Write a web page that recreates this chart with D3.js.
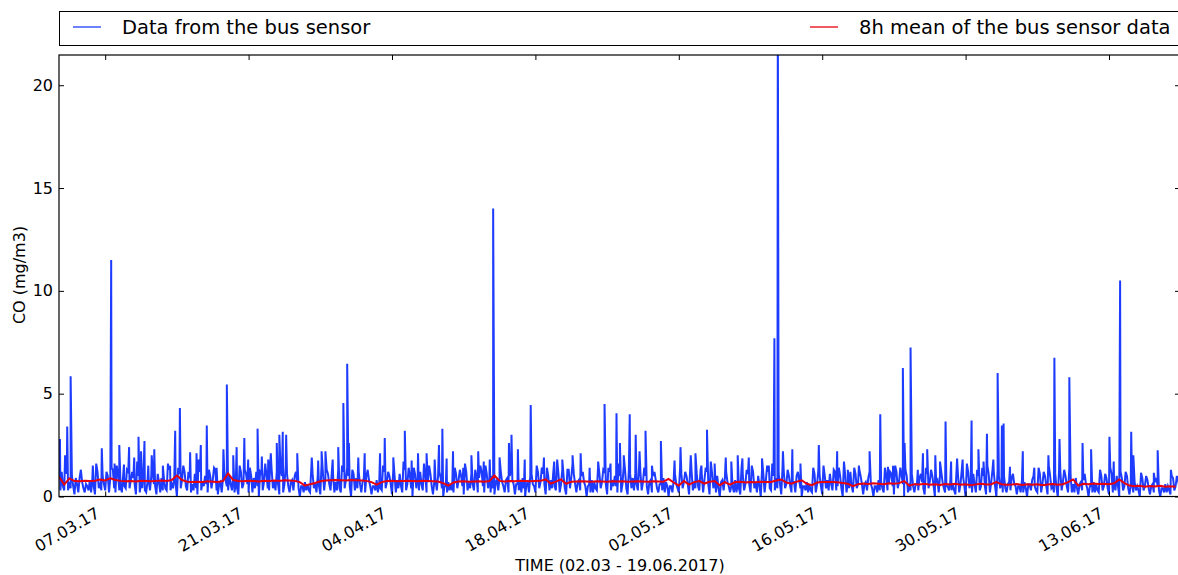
<!DOCTYPE html>
<html><head><meta charset="utf-8">
<script src="https://cdn.jsdelivr.net/npm/d3@7"></script>
<style>body{margin:0;background:#fff;overflow:hidden} svg{display:block} text{font-family:"DejaVu Sans",sans-serif;fill:#000}</style>
</head><body><svg id="c" width="1178" height="575"></svg>
<script>
const seriesNames = ["Data from the bus sensor", "8h mean of the bus sensor data"];
const xTickDates = ["2017-03-07","2017-03-21","2017-04-04","2017-04-18","2017-05-02","2017-05-16","2017-05-30","2017-06-13"];
const yTicks = [0, 5, 10, 15, 20];
const xLabel = "TIME (02.03 - 19.06.2017)";
const yLabel = "CO (mg/m3)";

// bus sensor readings at 00,06,12,18 h. March starts 02.03 12:00
const baseMar = [
0.9,1.2,
0.3,1.1,0.7,1.0, 0.1,0.6,0.9,0.7, 0.2,0.5,0.8,0.9, 0.1,1.2,0.6,1.0, 0.3,1.0,0.9,1.3,
0.2,1.1,0.5,1.0, 0.4,1.2,0.8,0.9, 0.1,1.0,0.7,1.2, 0.2,0.8,1.0,0.6, 0.1,0.7,0.9,0.8,
0.3,1.3,0.6,1.0, 0.0,1.1,0.8,1.2, 0.3,0.9,0.6,1.1, 0.1,1.2,0.7,1.0, 0.2,1.0,0.8,1.3,
0.1,0.7,0.9,0.8, 0.3,0.6,1.0,0.7, 0.1,1.2,0.6,1.1, 0.2,1.0,0.9,1.2, 0.0,1.1,0.7,1.0,
0.3,1.3,0.8,1.2, 0.1,1.0,0.6,1.1, 0.2,0.8,1.0,0.7, 0.0,0.5,0.7,0.6, 0.2,1.1,0.6,1.0,
0.1,1.2,0.9,1.1, 0.3,1.0,0.7,1.3, 0.2,1.2,0.8,1.0, 0.0,1.1,0.9,1.2
];
const baseApr = [
0.2,0.9,1.0,0.8, 0.1,0.5,0.8,0.6, 0.3,1.2,0.7,1.0, 0.1,1.0,0.8,1.1, 0.2,1.3,0.6,1.0,
0.0,1.1,0.9,1.2, 0.3,1.0,0.7,1.1, 0.1,0.8,1.0,0.9, 0.0,0.5,0.7,0.6, 0.2,1.1,0.8,1.0,
0.1,1.2,0.6,1.1, 0.3,1.0,0.9,1.2, 0.2,1.1,0.7,1.0, 0.1,0.8,0.9,0.7, 0.2,0.9,1.0,0.8,
0.1,0.6,0.8,0.9, 0.0,0.7,1.0,0.6, 0.2,1.2,0.7,1.1, 0.1,1.0,0.8,1.2, 0.3,1.1,0.6,1.0,
0.1,1.3,0.9,1.1, 0.2,0.8,1.0,0.7, 0.0,0.6,0.8,0.7, 0.3,1.1,0.7,1.2, 0.1,1.2,0.8,1.0,
0.2,1.0,0.6,1.3, 0.1,1.1,0.9,1.1, 0.3,1.2,0.7,1.0, 0.1,0.8,1.0,0.8, 0.2,0.6,0.9,0.7
];
const baseMay = [
0.0,0.5,0.8,0.6, 0.2,1.1,0.7,1.0, 0.1,1.2,0.6,1.1, 0.3,1.0,0.8,1.2, 0.1,1.1,0.7,1.0,
0.0,0.8,0.9,0.7, 0.2,0.5,0.8,0.6, 0.1,1.0,0.6,1.1, 0.2,1.2,0.7,1.0, 0.0,1.1,0.8,1.2,
0.3,1.0,0.9,1.1, 0.1,1.2,0.6,1.0, 0.2,0.7,1.0,0.8, 0.0,0.5,0.7,0.6, 0.2,1.1,0.6,1.0,
0.1,1.0,0.8,1.1, 0.3,1.2,0.5,1.0, 0.0,1.0,0.7,1.2, 0.2,1.1,0.6,1.0, 0.1,0.7,0.9,0.6,
0.0,0.5,0.8,0.7, 0.2,1.0,0.6,1.1, 0.1,1.2,0.7,1.0, 0.0,1.0,0.5,1.1, 0.2,0.6,0.9,0.7,
0.1,1.1,0.7,1.0, 0.0,0.8,1.0,0.7, 0.2,0.5,0.7,0.6, 0.1,1.1,0.6,1.0, 0.0,1.2,0.7,1.1,
0.2,1.0,0.5,1.0
];
const baseJun = [
0.1,1.1,0.7,1.2, 0.0,1.0,0.6,1.0, 0.2,0.7,0.9,0.6, 0.1,0.5,0.8,0.7, 0.0,0.6,0.8,0.5,
0.2,1.1,0.6,1.0, 0.1,1.0,0.5,1.1, 0.0,1.2,0.7,1.0, 0.2,1.0,0.6,0.9, 0.1,0.7,0.8,0.6,
0.0,0.5,0.7,0.6, 0.2,1.0,0.5,0.9, 0.1,1.1,0.6,1.0, 0.0,0.9,0.5,1.0, 0.1,0.6,0.7,0.5,
0.0,0.9,0.5,0.8, 0.1,0.6,0.7,0.5, 0.0,0.4,0.6,0.5, 0.1,0.9,0.5,0.8
];
// bus sensor readings at 03,09,15,21 h. March starts 02.03 15:00
const midMar = [
0.3,0.5,
1.4,0.3,0.4,0.5, 0.9,0.2,1.3,0.4, 0.6,0.3,0.2,0.5, 1.6,0.4,0.3,0.6, 1.2,0.2,1.4,0.4,
1.5,0.3,0.2,0.5, 1.3,0.4,1.2,0.6, 1.7,0.2,0.4,0.3, 0.7,0.3,1.3,0.5, 1.1,0.2,0.3,0.4,
1.6,0.3,0.4,0.6, 1.4,0.4,1.5,0.5, 1.2,0.2,0.3,0.4, 1.8,0.3,0.5,0.6, 1.3,0.4,1.4,0.3,
0.6,0.2,1.2,0.5, 1.0,0.3,0.2,0.4, 1.5,0.4,1.3,0.6, 1.4,0.2,0.4,0.5, 1.2,0.3,1.6,0.4,
1.7,0.4,0.3,0.6, 1.3,0.2,1.5,0.5, 0.7,0.3,1.2,0.4, 0.5,0.2,0.3,0.3, 1.4,0.4,0.2,0.5,
1.6,0.3,1.3,0.6, 1.2,0.2,0.3,0.4, 1.5,0.4,1.4,0.5, 1.3,0.3,0.4,0.6
];
const midApr = [
0.7,0.2,1.3,0.5, 0.5,0.3,0.2,0.4, 1.5,0.4,1.2,0.6, 1.3,0.2,0.4,0.5, 1.7,0.3,1.4,0.4,
1.4,0.4,0.3,0.6, 1.6,0.2,1.5,0.5, 0.7,0.3,1.2,0.4, 0.5,0.2,0.3,0.3, 1.4,0.4,1.3,0.5,
1.6,0.3,0.4,0.6, 1.3,0.2,1.5,0.5, 1.5,0.4,0.2,0.4, 0.7,0.3,1.2,0.5, 0.8,0.2,1.3,0.6,
0.6,0.3,0.2,0.4, 0.6,0.2,1.1,0.5, 1.5,0.4,1.4,0.6, 1.4,0.3,0.4,0.5, 1.8,0.2,1.3,0.4,
1.3,0.4,1.6,0.6, 0.7,0.3,1.2,0.5, 0.5,0.2,0.2,0.4, 1.5,0.4,1.3,0.6, 1.4,0.3,0.5,0.5,
1.6,0.2,1.5,0.4, 1.3,0.4,0.3,0.6, 1.5,0.3,1.4,0.5, 0.7,0.2,1.2,0.4, 0.6,0.3,0.2,0.5
];
const midMay = [
0.5,0.2,1.1,0.4, 1.4,0.4,1.2,0.6, 1.5,0.3,0.4,0.5, 1.3,0.2,1.4,0.6, 1.7,0.4,0.2,0.4,
0.7,0.3,1.2,0.5, 0.5,0.2,0.2,0.4, 1.4,0.3,1.3,0.6, 1.5,0.4,0.2,0.5, 1.3,0.2,1.5,0.4,
1.6,0.3,0.4,0.6, 1.4,0.4,1.3,0.5, 0.7,0.2,1.2,0.4, 0.5,0.3,0.2,0.3, 1.4,0.2,1.3,0.5,
1.5,0.4,0.3,0.6, 1.3,0.3,1.4,0.4, 1.7,0.2,0.4,0.5, 1.4,0.4,1.3,0.6, 0.6,0.3,1.2,0.4,
0.5,0.2,0.3,0.4, 1.4,0.3,1.2,0.5, 1.5,0.4,1.4,0.6, 1.3,0.2,0.3,0.5, 0.6,0.3,1.1,0.4,
1.4,0.4,1.3,0.5, 0.7,0.2,1.2,0.4, 0.5,0.3,0.3,0.3, 1.4,0.2,1.3,0.5, 1.6,0.4,0.2,0.6,
1.3,0.3,1.4,0.5
];
const midJun = [
1.5,0.2,1.3,0.5, 1.3,0.4,0.2,0.4, 0.6,0.3,1.1,0.5, 0.5,0.2,0.2,0.4, 0.6,0.3,1.0,0.3,
1.4,0.2,1.2,0.5, 1.5,0.4,0.2,0.4, 1.3,0.3,1.3,0.5, 1.4,0.2,0.2,0.4, 0.6,0.3,1.1,0.4,
0.5,0.2,0.2,0.3, 1.3,0.3,1.1,0.4, 1.4,0.2,0.3,0.5, 1.2,0.3,1.2,0.4, 0.6,0.2,0.3,0.3,
1.1,0.3,1.0,0.4, 0.5,0.2,0.9,0.3, 0.4,0.2,0.2,0.3, 1.0,0.3,1.0,0.4
];
// short peaks of the bus sensor data [time, mg/m3]
const spikes = [
["2017-03-02 14",2.8],["2017-03-03 02",2.0],["2017-03-03 07",3.4],["2017-03-03 15",5.85],
["2017-03-05 19",1.5],["2017-03-06 16",2.35],["2017-03-07 14",11.5],["2017-03-07 22",1.6],
["2017-03-08 09",2.5],["2017-03-08 20",1.55],["2017-03-09 08",2.4],["2017-03-09 20",1.9],
["2017-03-10 06",2.9],["2017-03-10 12",2.2],["2017-03-10 20",2.7],["2017-03-11 05",1.5],
["2017-03-11 13",2.0],["2017-03-11 19",2.3],["2017-03-12 15",1.5],["2017-03-13 08",1.5],
["2017-03-13 20",3.2],["2017-03-14 07",4.3],["2017-03-14 14",1.3],["2017-03-15 07",2.15],
["2017-03-15 22",2.1],["2017-03-16 08",2.5],["2017-03-16 22",3.45],["2017-03-17 21",1.4],
["2017-03-18 13",2.3],["2017-03-18 21",5.45],["2017-03-19 12",2.0],["2017-03-19 20",2.4],
["2017-03-20 14",2.85],["2017-03-20 23",1.8],["2017-03-21 21",3.3],["2017-03-22 07",1.95],
["2017-03-22 22",1.8],["2017-03-23 04",2.1],["2017-03-23 18",2.6],["2017-03-24 00",3.0],
["2017-03-24 08",3.15],["2017-03-24 16",3.0],["2017-03-25 18",2.1],["2017-03-27 04",1.9],
["2017-03-27 19",1.75],["2017-03-28 03",2.2],["2017-03-28 12",2.2],["2017-03-29 05",1.8],
["2017-03-29 18",2.4],["2017-03-30 06",4.55],["2017-03-30 15",6.45],["2017-03-30 19",2.6],
["2017-03-31 17",1.9],["2017-04-01 08",2.1],["2017-04-02 20",2.1],["2017-04-03 07",2.85],
["2017-04-04 03",1.9],["2017-04-05 06",3.2],["2017-04-05 22",1.75],["2017-04-06 13",2.1],
["2017-04-07 09",2.1],["2017-04-08 04",1.8],["2017-04-08 14",2.5],["2017-04-08 22",3.3],
["2017-04-09 08",1.85],["2017-04-09 23",2.2],["2017-04-10 23",1.4],["2017-04-11 18",2.0],
["2017-04-12 10",2.2],["2017-04-12 23",1.7],["2017-04-13 13",1.8],["2017-04-13 21",14.0],
["2017-04-14 12",1.9],["2017-04-15 10",2.6],["2017-04-15 16",3.0],["2017-04-16 07",2.3],
["2017-04-16 23",1.8],["2017-04-17 13",4.45],["2017-04-18 20",1.9],["2017-04-19 20",1.7],
["2017-04-20 15",1.8],["2017-04-21 15",2.0],["2017-04-22 10",2.1],["2017-04-23 07",1.4],
["2017-04-24 03",1.7],["2017-04-24 18",4.5],["2017-04-25 08",1.6],["2017-04-25 22",4.05],
["2017-04-26 06",2.6],["2017-04-26 15",2.0],["2017-04-27 05",4.0],["2017-04-27 19",3.0],
["2017-04-28 04",2.2],["2017-04-28 18",3.2],["2017-04-29 09",1.5],["2017-04-30 06",2.7],
["2017-05-01 14",1.75],["2017-05-02 04",2.4],["2017-05-03 04",2.0],["2017-05-03 15",2.1],
["2017-05-04 05",1.5],["2017-05-04 18",3.25],["2017-05-05 12",1.6],["2017-05-06 14",1.9],
["2017-05-07 03",1.7],["2017-05-07 18",2.0],["2017-05-08 05",1.85],["2017-05-08 20",1.9],
["2017-05-10 03",1.85],["2017-05-10 19",1.5],["2017-05-11 08",7.7],["2017-05-11 16",24.0],
["2017-05-12 04",2.2],["2017-05-13 02",2.3],["2017-05-13 21",1.6],["2017-05-15 16",2.5],
["2017-05-17 11",2.2],["2017-05-18 12",1.3],["2017-05-19 14",1.5],["2017-05-20 15",2.2],
["2017-05-21 16",4.0],["2017-05-22 10",1.45],["2017-05-22 22",1.5],["2017-05-23 21",6.25],
["2017-05-24 01",2.6],["2017-05-24 15",7.25],["2017-05-25 08",1.3],["2017-05-25 20",2.1],
["2017-05-26 06",2.3],["2017-05-27 01",2.0],["2017-05-27 12",1.7],["2017-05-28 01",3.65],
["2017-05-28 14",1.7],["2017-05-29 04",1.85],["2017-05-29 17",1.8],["2017-05-30 14",3.7],
["2017-05-31 06",2.3],["2017-05-31 18",1.7],["2017-06-01 02",3.05],["2017-06-01 17",1.8],
["2017-06-02 03",6.0],["2017-06-02 13",3.45],["2017-06-02 17",3.55],["2017-06-03 08",1.45],
["2017-06-04 14",2.2],["2017-06-05 17",1.4],["2017-06-07 02",2.0],["2017-06-07 16",6.75],
["2017-06-08 04",2.8],["2017-06-09 03",5.8],["2017-06-10 10",2.6],["2017-06-11 06",2.3],
["2017-06-13 01",2.9],["2017-06-13 11",1.7],["2017-06-14 01",5.8],["2017-06-14 02",10.5],
["2017-06-15 04",3.15],["2017-06-15 09",2.0],["2017-06-16 03",1.15],["2017-06-17 09",1.15],
["2017-06-17 18",2.25],["2017-06-19 01",1.3]
];
// 8h mean, every 12 h from 02.03 12:00
const mean8h = [
0.95,0.58,0.88, 0.75,0.74,0.76,0.75,0.77,0.82, 0.78,0.88,0.80,
0.76,0.74,0.75,0.73,0.76,0.75,0.74,0.76,0.78,0.75,0.80, 1.02,0.80,
0.72,0.70,0.72,0.71,0.74,0.72,0.70,0.75, 1.12,0.80,
0.75,0.74,0.76,0.75,0.73,0.76,0.75,0.78,0.76,0.79,0.78,0.76,0.70, 0.53,
0.60,0.66,0.74, 0.78,0.79,0.80,0.79,0.78,0.80,0.79,0.78,0.76,0.70, 0.58,
0.70,0.75,0.76,0.74,0.75,0.76,0.75,0.74,0.76,0.75,0.74,0.73,0.65, 0.53,0.68,
0.73,0.74,0.72,0.73,0.74,0.72,0.75, 1.02,0.76,
0.73,0.75,0.74,0.76,0.75,0.74,0.75,0.76, 0.83,0.63,0.72,0.83,0.62,
0.72,0.73,0.74,0.73,0.72,0.74,0.73,0.72,0.74,0.73,0.74,0.72,0.73,0.74,0.73,0.72,0.74,0.73,0.72,
0.86,0.68,0.53,0.75,0.58,0.70,0.75,0.63,0.72,0.75,0.55,0.70,0.58,
0.70,0.72,0.68,0.71,0.69,0.72,0.70,0.71,
0.78,0.83,0.68,0.62,0.72,0.79,0.62,0.55,
0.68,0.70,0.71,0.70,0.69,0.66,0.62, 0.50,
0.60,0.63,0.61,0.64,0.62,0.60,0.64,0.62,0.65, 0.75,0.53,
0.60,0.58,0.62,0.57,0.60,0.56,0.61,0.58,0.62,0.57,0.60,0.55,0.59,0.62,0.58,0.60, 0.70,
0.60,0.57,0.58,0.61,0.56,0.59,0.57,0.60,0.55,0.58,0.61,0.57,0.60,
0.70,0.83,0.53, 0.62,0.60,0.63,0.61,0.62,0.60,0.64, 0.83,0.65,0.53,
0.50,0.52,0.48,0.51,0.49,0.52,0.48,0.50,0.47
];

const H = 3600e3;
const expand = (arr, start, step) => arr.map((v, i) => ({ t: new Date(start.getTime() + i * step * H), v }));
const parseH = d3.timeParse("%Y-%m-%d %H");
const blue = [].concat(
  expand(baseMar, new Date(2017, 2, 2, 12), 6), expand(midMar, new Date(2017, 2, 2, 15), 6),
  expand(baseApr, new Date(2017, 3, 1, 0), 6), expand(midApr, new Date(2017, 3, 1, 3), 6),
  expand(baseMay, new Date(2017, 4, 1, 0), 6), expand(midMay, new Date(2017, 4, 1, 3), 6),
  expand(baseJun, new Date(2017, 5, 1, 0), 6), expand(midJun, new Date(2017, 5, 1, 3), 6),
  spikes.map(d => ({ t: parseH(d[0]), v: d[1] }))
).sort((a, b) => a.t - b.t);
const red = expand(mean8h, new Date(2017, 2, 2, 12), 12);

const svg = d3.select("#c");
const L = 59, R = 1180, T = 55, B = 496.5;
const x = d3.scaleTime().domain([new Date(2017, 2, 2, 11, 45), new Date(2017, 5, 19, 22, 20)]).range([L, R]);
const y = d3.scaleLinear().domain([0, 21.47]).range([B, T]);

svg.append("clipPath").attr("id", "clip").append("rect")
  .attr("x", L).attr("y", T).attr("width", R - L).attr("height", B - T);

const line = d3.line().x(d => x(d.t)).y(d => y(d.v));
const g = svg.append("g").attr("clip-path", "url(#clip)");
g.append("path").datum(blue).attr("d", line).attr("fill", "none")
  .attr("stroke", "#1e3cff").attr("stroke-width", 2).attr("stroke-linejoin", "miter");
g.append("path").datum(red).attr("d", line).attr("fill", "none")
  .attr("stroke", "#e8000b").attr("stroke-width", 2);

const tickDates = xTickDates.map(d3.timeParse("%Y-%m-%d"));
const fmt = d3.timeFormat("%d.%m.%y");
const ax = (a) => a.call(s => s.select(".domain").remove())
  .call(s => s.selectAll(".tick line").attr("stroke", "#000"));

svg.append("g").attr("transform", `translate(0,${B})`)
  .call(d3.axisBottom(x).tickValues(tickDates).tickSize(-5).tickFormat(fmt)).call(ax)
  .call(s => s.selectAll(".tick text").attr("font-size", 16).attr("font-family", "DejaVu Sans")
    .attr("text-anchor", "end").attr("x", 0).attr("y", 0).attr("dy", 0)
    .attr("transform", "translate(-5,20) rotate(-30)"));
svg.append("g").attr("transform", `translate(0,${T})`)
  .call(d3.axisTop(x).tickValues(tickDates).tickSize(-5).tickFormat("")).call(ax);
svg.append("g").attr("transform", `translate(${L},0)`)
  .call(d3.axisLeft(y).tickValues(yTicks).tickSize(-5).tickPadding(6)).call(ax)
  .call(s => s.selectAll(".tick text").attr("font-size", 16).attr("font-family", "DejaVu Sans"));
svg.append("g").attr("transform", `translate(${R},0)`)
  .call(d3.axisRight(y).tickValues(yTicks).tickSize(-5).tickFormat("")).call(ax);

svg.append("rect").attr("x", L).attr("y", T).attr("width", R - L).attr("height", B - T)
  .attr("fill", "none").attr("stroke", "#000").attr("stroke-width", 1.2);

svg.append("text").attr("x", 620).attr("y", 571).attr("text-anchor", "middle")
  .attr("font-size", 16).text(xLabel);
svg.append("text").attr("transform", "translate(25,275) rotate(-90)").attr("text-anchor", "middle")
  .attr("font-size", 16).text(yLabel);

// legend
svg.append("rect").attr("x", 59.5).attr("y", 11.5).attr("width", 1130).attr("height", 34)
  .attr("fill", "#fff").attr("stroke", "#000").attr("stroke-width", 1);
const leg = [{ x1: 73, tx: 122, c: "#1e3cff" }, { x1: 810, tx: 859, c: "#e8000b" }];
leg.forEach((l, i) => {
  svg.append("line").attr("x1", l.x1).attr("x2", l.x1 + 28).attr("y1", 27).attr("y2", 27)
    .attr("stroke", l.c).attr("stroke-width", 1.3);
  svg.append("text").attr("x", l.tx).attr("y", 34).attr("font-size", 19.5).text(seriesNames[i]);
});
</script></body></html>
